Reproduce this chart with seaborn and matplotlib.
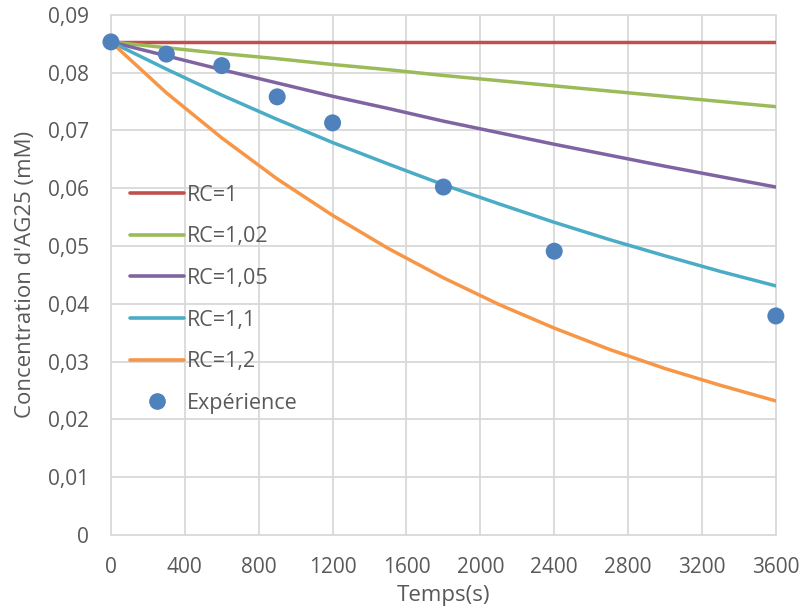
import matplotlib
matplotlib.use("Agg")
import matplotlib.pyplot as plt
import seaborn as sns
import pandas as pd
from matplotlib.ticker import FuncFormatter, MultipleLocator
from matplotlib.lines import Line2D

# Data
t_model = [0, 300, 600, 900, 1200, 1500, 1800, 2100, 2400, 2700, 3000, 3300, 3600]
rc_1 = [0.0853] * 13
rc_102 = [0.0853, 0.0843, 0.0833, 0.0824, 0.0814, 0.0805, 0.0795, 0.0786, 0.0777, 0.0768, 0.0759, 0.0750, 0.0741]
rc_105 = [0.0853, 0.0829, 0.0805, 0.0782, 0.0759, 0.0738, 0.0716, 0.0696, 0.0676, 0.0657, 0.0638, 0.0620, 0.0602]
rc_11 = [0.0853, 0.0806, 0.0761, 0.0719, 0.0679, 0.0642, 0.0606, 0.0573, 0.0541, 0.0511, 0.0483, 0.0456, 0.0431]
rc_12 = [0.0853, 0.0765, 0.0687, 0.0616, 0.0553, 0.0496, 0.0445, 0.0399, 0.0358, 0.0321, 0.0288, 0.0259, 0.0232]
series_names = ["RC=1", "RC=1,02", "RC=1,05", "RC=1,1", "RC=1,2"]
series_colors = ["#C0504D", "#9BBB59", "#8064A2", "#4BACC6", "#F79646"]

t_exp = [0, 300, 600, 900, 1200, 1800, 2400, 3600]
c_exp = [0.0853, 0.0832, 0.0812, 0.0758, 0.0713, 0.0602, 0.0491, 0.0379]
exp_name = "Expérience"
exp_color = "#4F81BD"

sns.set_theme(style="white")
plt.rcParams["font.family"] = ["Open Sans", "DejaVu Sans"]

rows = []
for name, vals in zip(series_names, [rc_1, rc_102, rc_105, rc_11, rc_12]):
    for t, v in zip(t_model, vals):
        rows.append({"t": t, "c": v, "serie": name})
df = pd.DataFrame(rows)
dfe = pd.DataFrame({"t": t_exp, "c": c_exp})

fig = plt.figure(figsize=(8.04, 6.15), dpi=100)
ax = fig.add_axes([0.138, 0.130, 0.827, 0.846])

sns.lineplot(data=df, x="t", y="c", hue="serie", hue_order=series_names,
             palette=series_colors, linewidth=2.5, ax=ax, legend=False, zorder=3)
sns.scatterplot(data=dfe, x="t", y="c", color=exp_color, s=150, edgecolor="none",
                ax=ax, zorder=4, clip_on=False)

ax.set_xlim(0, 3600)
ax.set_ylim(0, 0.09)
ax.xaxis.set_major_locator(MultipleLocator(400))
ax.yaxis.set_major_locator(MultipleLocator(0.01))
ax.yaxis.set_major_formatter(FuncFormatter(lambda v, p: "0" if abs(v) < 1e-12 else f"{v:.2f}".replace(".", ",")))
ax.grid(True, color="#D9D9D9", linewidth=1.3)
for s in ax.spines.values():
    s.set_visible(False)
for gl in ax.get_xgridlines() + ax.get_ygridlines():
    gl.set_clip_on(False)
ax.tick_params(axis="both", labelsize=15, colors="#595959", length=0)
ax.tick_params(axis="y", pad=16)
ax.tick_params(axis="x", pad=16)
ax.set_xlabel("Temps(s)", fontsize=16, color="#595959", labelpad=5)
ax.set_ylabel("Concentration d'AG25 (mM)", fontsize=16, color="#595959", labelpad=8)

handles = [Line2D([0], [0], color=c, linewidth=2.6) for c in series_colors]
handles.append(Line2D([0], [0], marker="o", color=exp_color, linestyle="none", markersize=11))
leg = ax.legend(handles, series_names + [exp_name], loc="upper left",
                bbox_to_anchor=(0.016, 0.69), frameon=False, fontsize=15.5,
                handlelength=2.5, handletextpad=0.15, labelspacing=0.96,
                borderaxespad=0)
for txt in leg.get_texts():
    txt.set_color("#595959")

fig.savefig("out.png", dpi=100)
